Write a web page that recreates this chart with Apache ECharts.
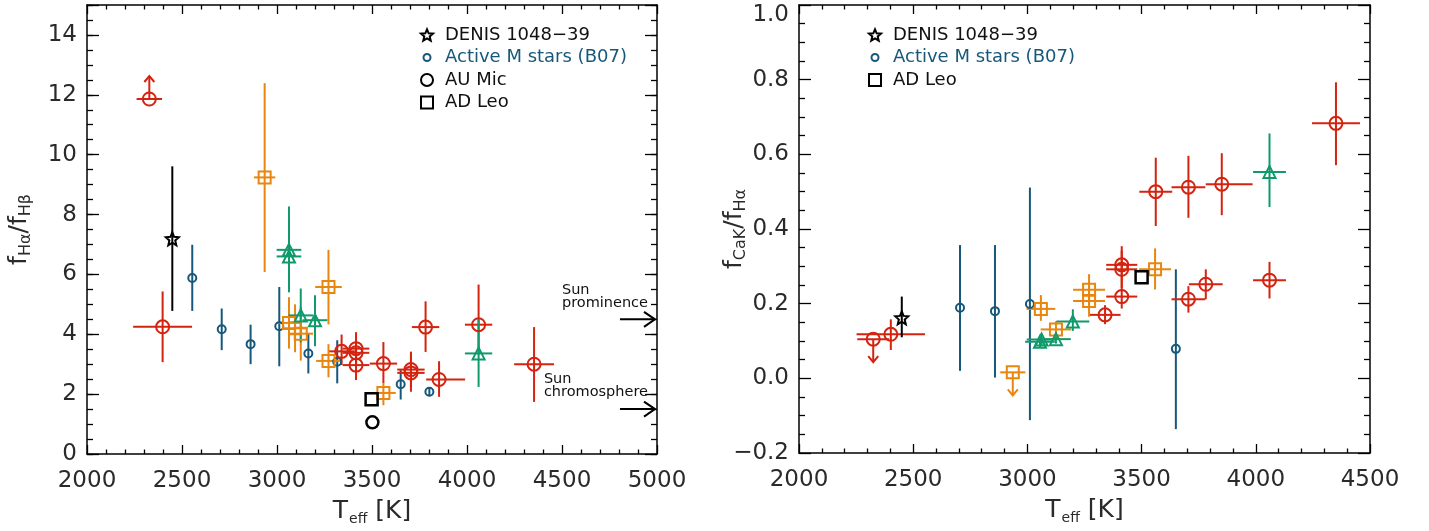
<!DOCTYPE html>
<html>
<head>
<meta charset="utf-8">
<script src="https://cdn.jsdelivr.net/npm/echarts@6/dist/echarts.min.js"></script>
<style>
  html, body { margin: 0; padding: 0; background: #fff; }
  #chart { width: 1429px; height: 531px; }
</style>
</head>
<body>
<div id="chart"></div>
<script>
const chart = echarts.init(document.getElementById('chart'));

const FONT = 'DejaVu Sans';
const red = '#d4230f';
const orange = '#e8860f';
const green = '#109a6c';
const blue = '#17587a';

// rows: Teff, value, dTeff-, dTeff+, dvalue-, dvalue+, limit arrow (1 up, -1 down)
const hahbRed = [
  [2328, 11.86, 67, 67, 0, 0, 1],
  [2398, 4.25, 155, 155, 1.18, 1.18, 0],
  [3340, 3.43, 70, 70, 0.46, 0.56, 0],
  [3416, 3.52, 70, 70, 0.55, 0.55, 0],
  [3416, 3.38, 70, 70, 0.45, 0.45, 0],
  [3416, 2.97, 70, 70, 0.5, 0.5, 0],
  [3560, 3.02, 72, 72, 0.66, 0.72, 0],
  [3705, 2.82, 72, 72, 0.6, 0.6, 0],
  [3705, 2.71, 72, 72, 0.63, 0.6, 0],
  [3782, 4.24, 72, 72, 0.83, 0.86, 0],
  [3853, 2.49, 68, 137, 0.58, 0.61, 0],
  [4061, 4.32, 72, 72, 1.0, 1.34, 0],
  [4353, 3.0, 105, 105, 1.26, 1.24, 0]
];
const hahbOrange = [
  [2935, 9.24, 56, 56, 3.16, 3.15, 0],
  [3063, 4.38, 65, 65, 0.86, 0.86, 0],
  [3095, 4.2, 65, 65, 0.8, 0.8, 0],
  [3125, 4.02, 65, 65, 0.9, 0.9, 0],
  [3271, 5.58, 70, 70, 1.25, 1.24, 0],
  [3271, 3.11, 65, 65, 0.55, 0.56, 0],
  [3560, 2.04, 65, 65, 0.41, 0.32, 0]
];
const hahbGreen = [
  [3063, 6.82, 65, 65, 1.4, 1.45, 0],
  [3063, 6.6, 65, 65, 1.2, 1.2, 0],
  [3125, 4.63, 65, 65, 0.9, 0.9, 0],
  [3200, 4.47, 65, 65, 0.87, 0.83, 0],
  [4061, 3.36, 72, 72, 1.12, 1.11, 0]
];
// rows: Teff, value, dvalue-, dvalue+
const hahbB07 = [
  [2554, 5.88, 1.1, 1.11],
  [2709, 4.17, 0.7, 0.69],
  [2861, 3.67, 0.67, 0.65],
  [3012, 4.27, 1.34, 1.31],
  [3165, 3.36, 0.67, 0.66],
  [3317, 3.08, 0.72, 0.72],
  [3651, 2.33, 0.51, 0.47],
  [3802, 2.08, 0.15, 0.15]
];
const hahbDenis = [[2449, 7.19, 2.41, 2.42]];
const hahbAdLeo = [[3498, 1.83]];
const hahbAuMic = [[3502, 1.06]];
const sunLevels = [4.5, 1.5];
const sunNames = ['Sun\nprominence', 'Sun\nchromosphere'];
const sunArrowFrom = 4805;

const cakRed = [
  [2325, 0.105, 70, 70, 0, 0, -1],
  [2402, 0.118, 150, 150, 0.042, 0.04, 0],
  [3340, 0.17, 68, 68, 0.025, 0.026, 0],
  [3413, 0.304, 68, 68, 0.05, 0.05, 0],
  [3413, 0.292, 68, 68, 0.05, 0.05, 0],
  [3413, 0.219, 68, 68, 0.032, 0.035, 0],
  [3562, 0.50, 72, 72, 0.092, 0.091, 0],
  [3705, 0.512, 74, 74, 0.082, 0.084, 0],
  [3851, 0.520, 70, 135, 0.083, 0.083, 0],
  [4351, 0.683, 105, 105, 0.112, 0.11, 0],
  [3705, 0.212, 74, 74, 0.036, 0.035, 0],
  [3781, 0.252, 74, 74, 0.04, 0.04, 0],
  [4060, 0.263, 72, 72, 0.049, 0.049, 0]
];
const cakOrange = [
  [2936, 0.016, 55, 55, 0, 0, -1],
  [3059, 0.186, 63, 63, 0.032, 0.037, 0],
  [3125, 0.131, 67, 67, 0.022, 0.022, 0],
  [3270, 0.237, 70, 70, 0.04, 0.042, 0],
  [3270, 0.207, 70, 70, 0.042, 0.04, 0],
  [3559, 0.292, 70, 70, 0.054, 0.056, 0]
];
const cakGreen = [
  [3055, 0.098, 65, 65, 0.015, 0.015, 0],
  [3062, 0.104, 65, 65, 0.015, 0.015, 0],
  [3125, 0.105, 65, 65, 0.012, 0.012, 0],
  [3199, 0.152, 72, 72, 0.025, 0.033, 0],
  [4060, 0.553, 72, 72, 0.094, 0.103, 0]
];
const cakB07 = [
  [2705, 0.189, 0.169, 0.168],
  [2858, 0.180, 0.178, 0.177],
  [3011, 0.199, 0.311, 0.312],
  [3650, 0.079, 0.215, 0.213]
];
const cakDenis = [[2450, 0.162, 0.052, 0.057]];
const cakAdLeo = [[3500, 0.271]];

const starPath = 'path://M0,-10 L2.65,-3.64 L9.51,-3.09 L4.28,1.39 L5.88,8.09 L0,4.5 L-5.88,8.09 L-4.28,1.39 L-9.51,-3.09 L-2.65,-3.64 Z';
const smallCircle = 'path://M-6,-6 M6,6 M3.5,0 A3.5,3.5 0 1 1 -3.5,0 A3.5,3.5 0 1 1 3.5,0 Z';

// y-only error rows -> full rows
const yOnly = rows => rows.map(r => [r[0], r[1], 0, 0, r[2], r[3], 0]);

function errorBars(rows, color, xi, yi, width) {
  return {
    type: 'custom', xAxisIndex: xi, yAxisIndex: yi, z: 2, silent: true,
    encode: { x: 0, y: 1 },
    data: rows,
    renderItem: function (params, api) {
      const t = api.value(0), v = api.value(1);
      const c = api.coord([t, v]);
      const style = { stroke: color, lineWidth: width || 2, fill: null };
      const kids = [];
      const seg = (a, b) => kids.push({ type: 'line', shape: { x1: a[0], y1: a[1], x2: b[0], y2: b[1] }, style: style });
      if (api.value(2) || api.value(3)) seg(api.coord([t - api.value(2), v]), api.coord([t + api.value(3), v]));
      if (api.value(4) || api.value(5)) seg(api.coord([t, v - api.value(4)]), api.coord([t, v + api.value(5)]));
      const lim = api.value(6);
      if (lim) {
        const tip = [c[0], c[1] - lim * 23];
        seg(c, tip);
        kids.push({ type: 'polyline', shape: { points: [[c[0] - 5, tip[1] + lim * 6], tip, [c[0] + 5, tip[1] + lim * 6]] }, style: style });
      }
      return { type: 'group', children: kids };
    }
  };
}

function markers(name, rows, symbol, size, color, xi, yi, bw) {
  return {
    type: 'scatter', name: name, xAxisIndex: xi, yAxisIndex: yi, z: 3, silent: true,
    symbol: symbol, symbolSize: size,
    data: rows.map(r => [r[0], r[1]]),
    itemStyle: { color: 'rgba(0,0,0,0)', borderColor: color, borderWidth: bw || 2, opacity: 1 },
    emphasis: { disabled: true }
  };
}

const measure = document.createElement('canvas').getContext('2d');
function textWidth(str, size) {
  measure.font = size + 'px "' + FONT + '"';
  return Math.max.apply(null, str.split('\n').map(s => measure.measureText(s).width));
}

const sunSeries = {
  type: 'custom', xAxisIndex: 0, yAxisIndex: 0, z: 4, silent: true,
  encode: { x: 0, y: 1 },
  data: sunLevels.map(v => [sunArrowFrom, v]),
  renderItem: function (params, api) {
    const v = api.value(1);
    const a = api.coord([api.value(0), v]);
    const b = api.coord([5000, v]);
    b[0] -= 2;
    const style = { stroke: '#000', lineWidth: 2, fill: null };
    const label = sunNames[params.dataIndex];
    const w = textWidth(label, 14.5);
    return {
      type: 'group', children: [
        { type: 'line', shape: { x1: a[0], y1: a[1], x2: b[0], y2: b[1] }, style: style },
        { type: 'polyline', shape: { points: [[b[0] - 11, b[1] - 7.5], b, [b[0] - 11, b[1] + 7.5]] }, style: style },
        { type: 'text', style: { text: label, x: b[0] - 7 - w, y: b[1] - 10, align: 'left', verticalAlign: 'bottom',
          font: '14.5px "' + FONT + '"', fill: '#111', lineHeight: 13 } }
      ]
    };
  }
};

const tickStyle = { color: '#000', width: 1.3 };
function xAxis(gi, pos, max, labels, name) {
  return {
    type: 'value', gridIndex: gi, position: pos, min: 2000, max: max, interval: 500,
    axisLine: { show: true, onZero: false, lineStyle: { color: '#000', width: 1.5 } },
    axisTick: { show: true, inside: true, length: 9, lineStyle: tickStyle },
    minorTick: { show: true, splitNumber: 5, length: 4.5, lineStyle: tickStyle },
    splitLine: { show: false },
    axisLabel: { show: labels, margin: 16, fontFamily: FONT, fontSize: 23, color: '#2a2a2a', formatter: v => String(v) },
    name: name, nameLocation: 'middle', nameGap: 42, nameMoveOverlap: false,
    nameTextStyle: {
      fontFamily: FONT, color: '#2a2a2a',
      rich: {
        t: { fontFamily: FONT, fontSize: 25, color: '#2a2a2a', lineHeight: 30 },
        s: { fontFamily: FONT, fontSize: 14, color: '#2a2a2a', verticalAlign: 'bottom', lineHeight: 14, padding: [0, 8, 0, 1] }
      }
    }
  };
}
function yAxis(gi, pos, min, max, interval, opts) {
  return Object.assign({
    type: 'value', gridIndex: gi, position: pos, min: min, max: max, interval: interval,
    axisLine: { show: true, onZero: false, lineStyle: { color: '#000', width: 1.5 } },
    axisTick: { show: true, inside: true, length: 12, lineStyle: tickStyle },
    minorTick: { show: false },
    splitLine: { show: false },
    axisLabel: { show: false }
  }, opts);
}
const yName = {
  nameLocation: 'middle', nameMoveOverlap: false,
  nameTextStyle: {
    fontFamily: FONT, color: '#2a2a2a',
    rich: {
      f: { fontFamily: FONT, fontSize: 25, color: '#2a2a2a', lineHeight: 30 },
      s: { fontFamily: FONT, fontSize: 16, color: '#2a2a2a', verticalAlign: 'bottom', lineHeight: 16 }
    }
  }
};
const yLabel = { show: true, margin: 10, fontFamily: FONT, fontSize: 23, color: '#2a2a2a' };

const option = {
  animation: false,
  backgroundColor: '#fff',
  grid: [
    { left: 87, top: 5, width: 570, height: 449, outerBoundsMode: 'none' },
    { left: 799, top: 5, width: 571, height: 448, outerBoundsMode: 'none' }
  ],
  xAxis: [
    xAxis(0, 'bottom', 5000, true, '{t|T}{s|eff}{t|[K]}'),
    xAxis(0, 'top', 5000, false, ''),
    xAxis(1, 'bottom', 4500, true, '{t|T}{s|eff}{t|[K]}'),
    xAxis(1, 'top', 4500, false, '')
  ],
  yAxis: [
    yAxis(0, 'left', 0, 15, 2, Object.assign({
      axisLabel: Object.assign({}, yLabel, { formatter: v => (v > 14 ? '' : String(v)) }),
      name: '{f|f}{s|Hα}{f|/f}{s|Hβ}', nameGap: 53
    }, yName)),
    yAxis(0, 'right', 0, 15, 2),
    yAxis(0, 'left', 0, 15, 0.5, { axisLine: { show: false }, axisTick: { show: true, inside: true, length: 6, lineStyle: tickStyle } }),
    yAxis(0, 'right', 0, 15, 0.5, { axisLine: { show: false }, axisTick: { show: true, inside: true, length: 6, lineStyle: tickStyle } }),
    yAxis(1, 'left', -0.2, 1.0, 0.2, Object.assign({
      minorTick: { show: true, splitNumber: 4, length: 6, lineStyle: tickStyle },
      axisLabel: Object.assign({}, yLabel, {
        formatter: v => {
          const r = Math.round(v * 10) / 10;
          const s = (r < 0 ? '\u2212' : '') + Math.abs(r).toFixed(1);
          return r >= 1 ? '{top|' + s + '}' : s;
        },
        rich: { top: { fontFamily: FONT, fontSize: 23, color: '#2a2a2a', padding: [20, 0, 0, 0] } }
      }),
      name: '{f|f}{s|CaK}{f|/f}{s|Hα}', nameGap: 50
    }, yName)),
    yAxis(1, 'right', -0.2, 1.0, 0.2, { minorTick: { show: true, splitNumber: 4, length: 6, lineStyle: tickStyle } })
  ],
  legend: [
    {
      left: 415, top: 21, orient: 'vertical', itemWidth: 12, itemHeight: 12, itemGap: 4.5,
      selectedMode: false,
      textStyle: { fontFamily: FONT, fontSize: 18, color: '#111', padding: [0, 0, 0, 7] },
      data: [
        { name: 'DENIS 1048\u221239', icon: starPath },
        { name: 'Active M stars (B07)', icon: smallCircle, textStyle: { color: blue } },
        { name: 'AU Mic', icon: 'circle' },
        { name: 'AD Leo', icon: 'rect' }
      ]
    },
    {
      left: 863, top: 21, orient: 'vertical', itemWidth: 12, itemHeight: 12, itemGap: 4.5,
      selectedMode: false,
      textStyle: { fontFamily: FONT, fontSize: 18, color: '#111', padding: [0, 0, 0, 7] },
      data: [
        { name: 'DENIS 1048\u221239', icon: starPath },
        { name: 'Active M stars (B07)', icon: smallCircle, textStyle: { color: blue } },
        { name: 'AD Leo', icon: 'rect' }
      ]
    }
  ],
  series: [
    errorBars(yOnly(hahbB07), blue, 0, 0),
    errorBars(hahbRed, red, 0, 0),
    errorBars(hahbOrange, orange, 0, 0),
    errorBars(hahbGreen, green, 0, 0),
    errorBars(yOnly(hahbDenis), '#000', 0, 0),
    markers('Active M stars (B07)', hahbB07, 'circle', 8, blue, 0, 0),
    markers('hahb red', hahbRed, 'circle', 13, red, 0, 0),
    markers('hahb orange', hahbOrange, 'rect', 12, orange, 0, 0),
    markers('hahb green', hahbGreen, 'triangle', 12, green, 0, 0),
    markers('DENIS 1048\u221239', hahbDenis, starPath, 13, '#000', 0, 0),
    markers('AD Leo', hahbAdLeo, 'rect', 12, '#000', 0, 0, 2.5),
    markers('AU Mic', hahbAuMic, 'circle', 12, '#000', 0, 0, 2.5),
    sunSeries,

    errorBars(yOnly(cakB07), blue, 2, 4),
    errorBars(cakRed, red, 2, 4),
    errorBars(cakOrange, orange, 2, 4),
    errorBars(cakGreen, green, 2, 4),
    errorBars(yOnly(cakDenis), '#000', 2, 4),
    markers('Active M stars (B07)', cakB07, 'circle', 8, blue, 2, 4),
    markers('cak red', cakRed, 'circle', 13, red, 2, 4),
    markers('cak orange', cakOrange, 'rect', 12, orange, 2, 4),
    markers('cak green', cakGreen, 'triangle', 12, green, 2, 4),
    markers('DENIS 1048\u221239', cakDenis, starPath, 13, '#000', 2, 4),
    markers('AD Leo', cakAdLeo, 'rect', 12, '#000', 2, 4, 2.5)
  ]
};

chart.setOption(option);
</script>
</body>
</html>
